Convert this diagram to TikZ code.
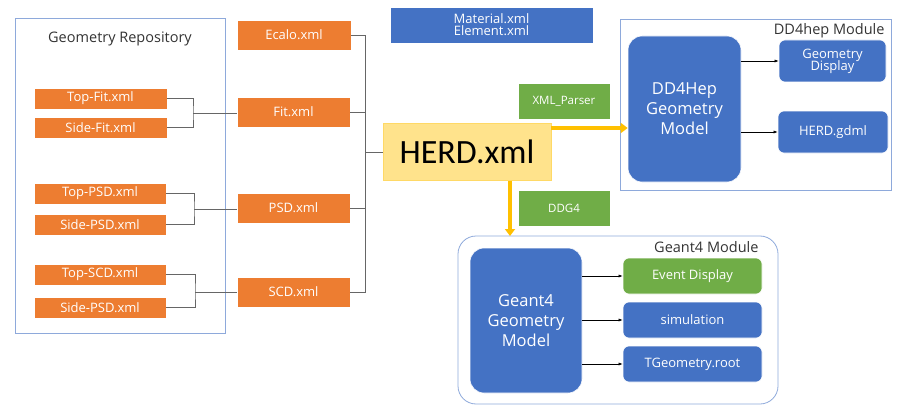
\documentclass[tikz,border=0pt]{standalone}
\usepackage{fontspec}
\setmainfont{Open Sans}
\newfontfamily\calib{Carlito}
\usetikzlibrary{arrows.meta}
\definecolor{org}{HTML}{ED7D31}
\definecolor{blu}{HTML}{4472C4}
\definecolor{grn}{HTML}{70AD47}
\definecolor{gold}{HTML}{FFC000}
\definecolor{frame}{HTML}{8EA9DB}
\begin{document}
\begin{tikzpicture}[x=1pt,y=-1pt,
 box/.style={draw=white,line width=0.6pt,inner sep=0pt,font=\fontsize{13}{15}\selectfont,text=white,align=center},
 ob/.style={box,fill=org},
 bb/.style={box,fill=blu,rounded corners=6pt},
 gb/.style={box,fill=grn},
 lab/.style={font=\fontsize{14.5}{16}\selectfont,text=black!80},
 con/.style={draw=black!60,line width=0.8pt},
 arr/.style={draw=black,line width=0.5pt,-{Latex[length=4pt]}},
 fat/.style={draw=gold,line width=4pt,-{Triangle[length=7pt,width=10pt]}}]
\useasboundingbox (0,0) rectangle (916,412);
\newcommand\bx[5]{\node[#1,minimum width=#4-#2,minimum height=#5-#3] at ({(#2+#4)/2},{(#3+#5)/2})}
% frames
\draw[frame,line width=0.8pt] (15,18) rectangle (225,333);
\node[lab] (gr) at (120,39) {Geometry Repository};
\draw[frame,line width=0.8pt] (620,19) rectangle (891,190);
\node[lab,anchor=east] (dl) at (888,31) {DD4hep Module};
\draw[frame,line width=0.8pt,rounded corners=18pt] (458,236) rectangle (778,404);
\node[lab,anchor=east] (gl) at (762,247) {Geant4 Module};
% left
\bx{ob}{34}{88}{167}{109} (tf) {Top-Fit.xml};
\bx{ob}{34}{117}{167}{138} (sf) {Side-Fit.xml};
\bx{ob}{34}{183}{166}{204} (tp) {Top-PSD.xml};
\bx{ob}{34}{214}{166}{235} (sp) {Side-PSD.xml};
\bx{ob}{34}{264}{166}{285} (ts) {Top-SCD.xml};
\bx{ob}{34}{297}{166}{318} (ss) {Side-PSD.xml};
\bx{ob}{237}{20}{351}{50} (ec) {Ecalo.xml};
\bx{ob}{237}{97}{350}{127} (fit) {Fit.xml};
\bx{ob}{237}{193}{350}{223} (psd) {PSD.xml};
\bx{ob}{237}{277}{350}{307} (scd) {SCD.xml};
\draw[con] (tf.east) -| (193,113) |- (sf.east);
\draw[con] (193,113) -- (fit.west|-193,113);
\draw[con] (tp.east) -| (194,209) |- (sp.east);
\draw[con] (194,209) -- (psd.west|-194,209);
\draw[con] (ts.east) -| (195,292) |- (ss.east);
\draw[con] (195,292) -- (scd.west|-195,292);
% herd
\node[draw=gold!60,fill=gold!45,inner sep=0pt,minimum width=168,minimum height=57,font=\calib\fontsize{34}{36}\selectfont] (herd) at (467,152) {HERD.xml};
\draw[con] (ec.east) -| (365,152) (fit.east) -| (365,152) (psd.east) -| (365,152) (scd.east) -| (365,152) (365,152) -- (herd.west);
\bx{box,fill=blu}{390}{7}{593}{43} (mat) {Material.xml\\[-3pt]Element.xml};
\bx{gb}{518}{83}{610}{119} (xp) {\fontsize{11.5}{13}\selectfont XML\_Parser};
\bx{gb}{518}{190}{610}{226} (ddg) {\fontsize{11.5}{13}\selectfont DDG4};
% dd4hep
\bx{bb,rounded corners=14pt,font=\fontsize{16.5}{20}\selectfont}{628}{36}{741}{182} (dm) {DD4Hep\\Geometry\\Model};
\bx{bb}{779}{40}{886}{82} (gd) {Geometry\\[-3pt]Display};
\bx{bb}{778}{111}{888}{153} (gdml) {HERD.gdml};
\draw[arr] (dm.east|-0,61) -- (gd.west|-0,61);
\draw[arr] (dm.east|-gdml) -- (gdml.west);
\draw[fat] (herd.east|-0,128) -- (dm.west|-0,128);
% geant4
\bx{bb,rounded corners=14pt,font=\fontsize{16.5}{20}\selectfont}{470}{248}{582}{393} (gm) {Geant4\\Geometry\\Model};
\bx{gb,rounded corners=6pt}{623}{258}{762}{294} (ev) {Event Display};
\bx{bb}{623}{302}{762}{338} (sim) {simulation};
\bx{bb}{623}{346}{762}{382} (tg) {TGeometry.root};
\draw[arr] (gm.east|-ev) -- (ev.west);
\draw[arr] (gm.east|-sim) -- (sim.west);
\draw[arr] (gm.east|-tg) -- (tg.west);
\draw[fat] (herd.south-|510,0) -- (510,236);
\end{tikzpicture}
\end{document}
